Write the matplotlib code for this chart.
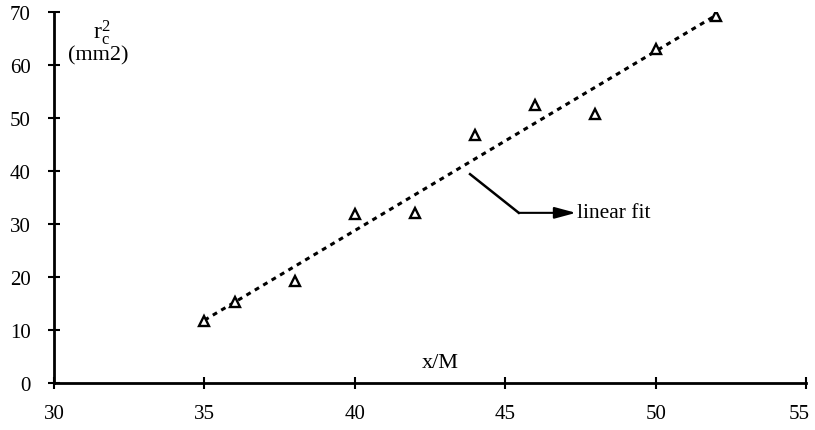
import matplotlib
matplotlib.use("Agg")
import matplotlib.pyplot as plt
import matplotlib.transforms as mtransforms
import numpy as np

# data
x_vals = [35, 36, 38, 40, 42, 44, 46, 48, 50, 52]
y_vals = [11.7, 15.3, 19.2, 31.9, 32.1, 46.8, 52.5, 50.8, 63.0, 69.2]
x_ticks = [30, 35, 40, 45, 50, 55]
y_ticks = [0, 10, 20, 30, 40, 50, 60, 70]

plt.rcParams['font.family'] = ['Liberation Serif', 'DejaVu Serif']
plt.rcParams['mathtext.fontset'] = 'custom'
plt.rcParams['mathtext.rm'] = 'Liberation Serif'
plt.rcParams['mathtext.it'] = 'Liberation Serif'

fig = plt.figure(figsize=(8.15, 4.31), dpi=100)
ax = fig.add_axes([0.0663, 0.109, 0.9227, 0.861])

# linear fit
coef = np.polyfit(x_vals, y_vals, 1)
xf = np.array([min(x_vals), max(x_vals)])
ax.plot(xf, np.polyval(coef, xf), color='black', lw=2.2, linestyle=(0, (1.6, 1.6)),
        zorder=2)

ax.plot(x_vals, y_vals, linestyle='none', marker='^', markersize=7,
        markerfacecolor='white', markeredgecolor='black', markeredgewidth=1.7,
        zorder=3)

ax.set_xlim(30, 55)
ax.set_ylim(0, 70)
ax.set_xticks(x_ticks)
ax.set_yticks(y_ticks)
ax.tick_params(axis='both', direction='inout', length=8, width=1.5,
               labelsize=15, colors='black')
ax.tick_params(axis='x', pad=11)
ax.tick_params(axis='y', pad=13)

# nudge the last x tick label slightly left so it stays inside the figure
last = ax.get_xticklabels()[-1]
last.set_transform(last.get_transform() +
                   mtransforms.ScaledTranslation(-5 / 72, 0, fig.dpi_scale_trans))

for s in ['top', 'right']:
    ax.spines[s].set_visible(False)
for s in ['left', 'bottom']:
    ax.spines[s].set_linewidth(2)

# annotation "linear fit"
start = (43.83, 39.4)
corner = (45.45, 32.1)
tip = (47.35, 32.1)
ax.plot([start[0], corner[0]], [start[1], corner[1]], color='black', lw=1.8)
ax.annotate('', xy=tip, xytext=corner,
            arrowprops=dict(arrowstyle='-|>,head_length=1.3,head_width=0.35',
                            color='black', lw=1.5, shrinkA=0, shrinkB=0))
ax.text(47.38, 32.1, 'linear fit', fontsize=15.5, va='center', ha='left')

# axis labels
ax.text(42.83, 3.9, 'x/M', fontsize=16, ha='center', va='center')
ax.text(31.58, 66.3, r'r$_\mathrm{c}^\mathrm{2}$', fontsize=17, ha='center', va='center')
ax.text(31.48, 61.9, '(mm2)', fontsize=16, ha='center', va='center')

fig.savefig('out.png', dpi=100)
